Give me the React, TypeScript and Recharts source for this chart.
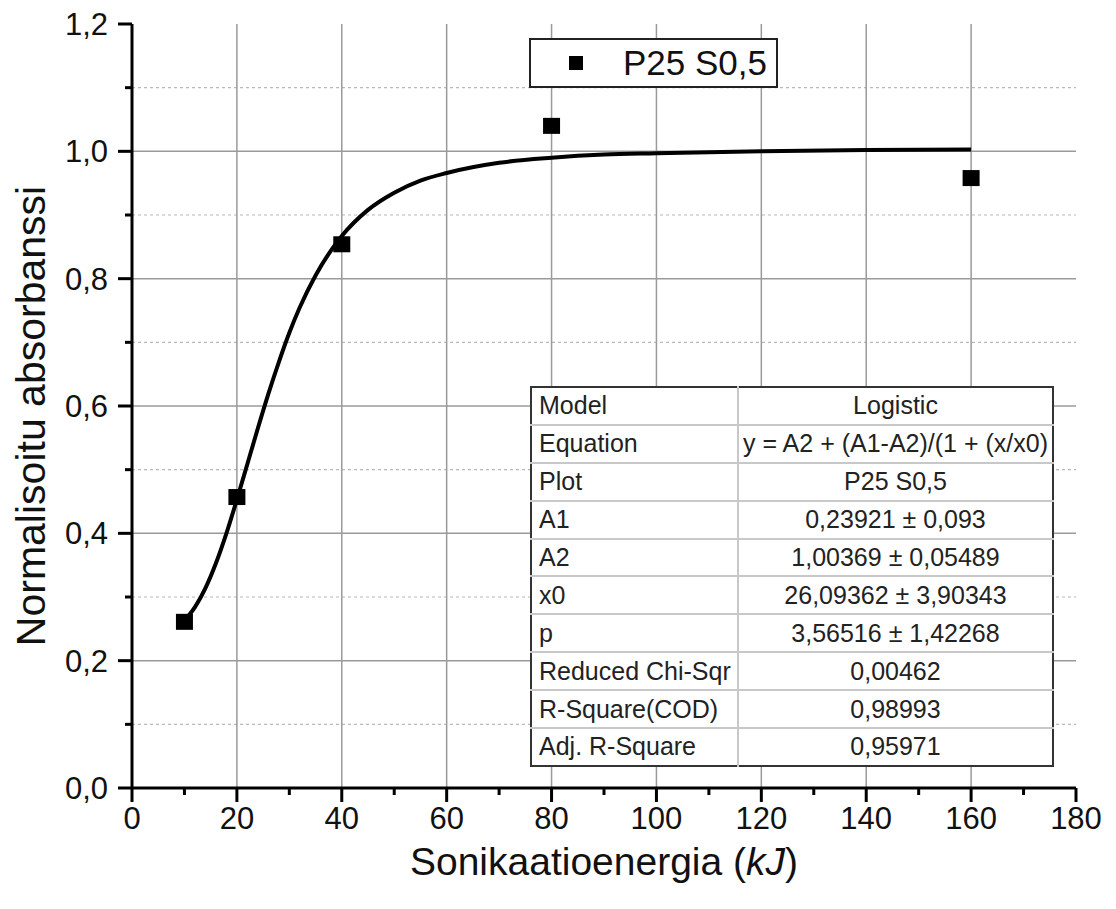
import {
  ComposedChart,
  Line,
  Scatter,
  XAxis,
  YAxis,
  ReferenceLine,
  Legend,
  Label,
} from 'recharts';

// measured points
const energy = [10, 20, 40, 80, 160];
const absorbance = [0.261, 0.457, 0.854, 1.04, 0.958];

// fitted logistic curve
const fitX = [10, 12, 14, 16, 18, 20, 22, 24, 26, 28, 30, 32, 35, 38, 40, 45, 50, 55, 60, 70, 80, 90, 100, 120, 140, 160];
const fitY = [0.263, 0.284, 0.314, 0.353, 0.4, 0.453, 0.509, 0.565, 0.619, 0.669, 0.715, 0.755, 0.805, 0.845, 0.867, 0.908, 0.935, 0.954, 0.966, 0.982, 0.99, 0.995, 0.997, 1.0, 1.002, 1.003];

const xTicks = [0, 10, 20, 30, 40, 50, 60, 70, 80, 90, 100, 110, 120, 130, 140, 150, 160, 170, 180];
const yTicks = [0, 0.1, 0.2, 0.3, 0.4, 0.5, 0.6, 0.7, 0.8, 0.9, 1.0, 1.1, 1.2];
const xGrid = [20, 40, 60, 80, 100, 120, 140, 160];
const yGridMajor = [0.2, 0.4, 0.6, 0.8, 1.0];
const yGridMinor = [0.1, 0.3, 0.5, 0.7, 0.9, 1.1];

const seriesName = 'P25 S0,5';

const fitLabels = ['Model', 'Equation', 'Plot', 'A1', 'A2', 'x0', 'p', 'Reduced Chi-Sqr', 'R-Square(COD)', 'Adj. R-Square'];
const fitValues = [
  'Logistic',
  'y = A2 + (A1-A2)/(1 + (x/x0)',
  'P25 S0,5',
  '0,23921 ± 0,093',
  '1,00369 ± 0,05489',
  '26,09362 ± 3,90343',
  '3,56516 ± 1,42268',
  '0,00462',
  '0,98993',
  '0,95971',
];

const points = energy.map((x, i) => ({ x, y: absorbance[i] }));
const curve = fitX.map((x, i) => ({ x, y: fitY[i] }));

const FONT = '"Liberation Sans", Arial, sans-serif';
const TICK = 14;
const MARGIN_X = 4;
const MARGIN_Y = 10;

const fmt = (v: number) => v.toFixed(1).replace('.', ',');

const XTick = (props: any) => {
  const { x, y, payload } = props;
  const major = payload.value % 20 === 0;
  const y0 = y - TICK - MARGIN_X;
  return (
    <g>
      <line x1={x} x2={x} y1={y0} y2={y0 + (major ? TICK : 7)} stroke="#000" strokeWidth={3} />
      {major && (
        <text x={x} y={y} dy="0.75em" textAnchor="middle" fontSize={31} fontFamily={FONT} fill="#111">
          {payload.value}
        </text>
      )}
    </g>
  );
};

const YTick = (props: any) => {
  const { x, y, payload } = props;
  const major = Math.round(payload.value * 10) % 2 === 0;
  const x0 = x + TICK + MARGIN_Y;
  return (
    <g>
      <line x1={x0} x2={x0 - (major ? TICK : 7)} y1={y} y2={y} stroke="#000" strokeWidth={3} />
      {major && (
        <text x={x} y={y} dy="0.36em" textAnchor="end" fontSize={31} fontFamily={FONT} fill="#111">
          {fmt(payload.value)}
        </text>
      )}
    </g>
  );
};

const Square = (props: any) => {
  const { cx, cy } = props;
  return <rect x={cx - 8.5} y={cy - 8} width={17} height={16} fill="#000" />;
};

const LegendBox = () => (
  <div
    style={{
      width: 249,
      height: 50,
      boxSizing: 'border-box',
      border: '2px solid #222',
      background: '#fff',
      display: 'flex',
      alignItems: 'center',
      fontFamily: FONT,
    }}
  >
    <div style={{ width: 14, height: 14, background: '#000', marginLeft: 38 }} />
    <span style={{ fontSize: 35, marginLeft: 40, color: '#111', whiteSpace: 'nowrap' }}>{seriesName}</span>
  </div>
);

export default function App() {
  return (
    <div style={{ position: 'absolute', left: 0, top: 0, width: 1116, height: 909, background: '#fff' }}>
      <ComposedChart width={1116} height={909} margin={{ top: 24, right: 40, left: 52, bottom: 61 }}>
        <XAxis
          type="number"
          dataKey="x"
          domain={[0, 180]}
          ticks={xTicks}
          interval={0}
          height={60}
          tickSize={TICK}
          tickMargin={MARGIN_X}
          tickLine={false}
          tick={<XTick />}
          axisLine={{ stroke: '#000', strokeWidth: 3 }}
        >
          <Label
            content={({ viewBox }: any) => (
              <text
                x={viewBox.x + viewBox.width / 2}
                y={viewBox.y + 87}
                textAnchor="middle"
                fontSize={39}
                fontFamily={FONT}
                fill="#111"
              >
                <tspan>Sonikaatioenergia (</tspan>
                <tspan fontStyle="italic">kJ</tspan>
                <tspan>)</tspan>
              </text>
            )}
          />
        </XAxis>
        <YAxis
          type="number"
          domain={[0, 1.2]}
          ticks={yTicks}
          interval={0}
          width={80}
          tickSize={TICK}
          tickMargin={MARGIN_Y}
          tickLine={false}
          tick={<YTick />}
          axisLine={{ stroke: '#000', strokeWidth: 3 }}
        >
          <Label
            content={({ viewBox }: any) => {
              const cx = 45;
              const cy = viewBox.y + viewBox.height / 2 + 10;
              return (
                <text
                  x={cx}
                  y={cy}
                  transform={`rotate(-90 ${cx} ${cy})`}
                  textAnchor="middle"
                  fontSize={41}
                  fontFamily={FONT}
                  fill="#111"
                >
                  Normalisoitu absorbanssi
                </text>
              );
            }}
          />
        </YAxis>

        {yGridMinor.map((v) => (
          <ReferenceLine key={'m' + v} y={v} stroke="#b8b8b8" strokeWidth={1.2} strokeDasharray="3 3" />
        ))}
        {yGridMajor.map((v) => (
          <ReferenceLine key={'h' + v} y={v} stroke="#9a9a9a" strokeWidth={1.5} />
        ))}
        {xGrid.map((v) => (
          <ReferenceLine key={'v' + v} x={v} stroke="#9a9a9a" strokeWidth={1.5} />
        ))}

        <Legend
          layout="horizontal"
          verticalAlign="middle"
          align="center"
          wrapperStyle={{ left: 529, top: 38, width: 249, height: 50 }}
          content={() => <LegendBox />}
        />

        <Line
          data={curve}
          dataKey="y"
          type="monotone"
          stroke="#000"
          strokeWidth={4}
          dot={false}
          activeDot={false}
          legendType="none"
          isAnimationActive={false}
        />
        <Scatter data={points} dataKey="y" name={seriesName} fill="#000" shape={<Square />} isAnimationActive={false} />
      </ComposedChart>

      <table
        style={{
          position: 'absolute',
          left: 530,
          top: 386,
          width: 524,
          height: 379,
          borderCollapse: 'collapse',
          background: '#fff',
          fontFamily: FONT,
          fontSize: 25,
          color: '#222',
          border: '2px solid #333',
          tableLayout: 'fixed',
        }}
      >
        <colgroup>
          <col style={{ width: 207 }} />
          <col />
        </colgroup>
        <tbody>
          {fitLabels.map((name, i) => (
            <tr key={name} style={{ height: 37.9 }}>
              <td
                style={{
                  borderTop: i ? '2px solid #c8c8c8' : 'none',
                  borderRight: '2px solid #c8c8c8',
                  padding: '0 0 0 7px',
                  whiteSpace: 'nowrap',
                  overflow: 'hidden',
                }}
              >
                {name}
              </td>
              <td
                style={{
                  borderTop: i ? '2px solid #c8c8c8' : 'none',
                  padding: 0,
                  textAlign: 'center',
                  whiteSpace: 'nowrap',
                  overflow: 'hidden',
                }}
              >
                {fitValues[i]}
              </td>
            </tr>
          ))}
        </tbody>
      </table>
    </div>
  );
}
